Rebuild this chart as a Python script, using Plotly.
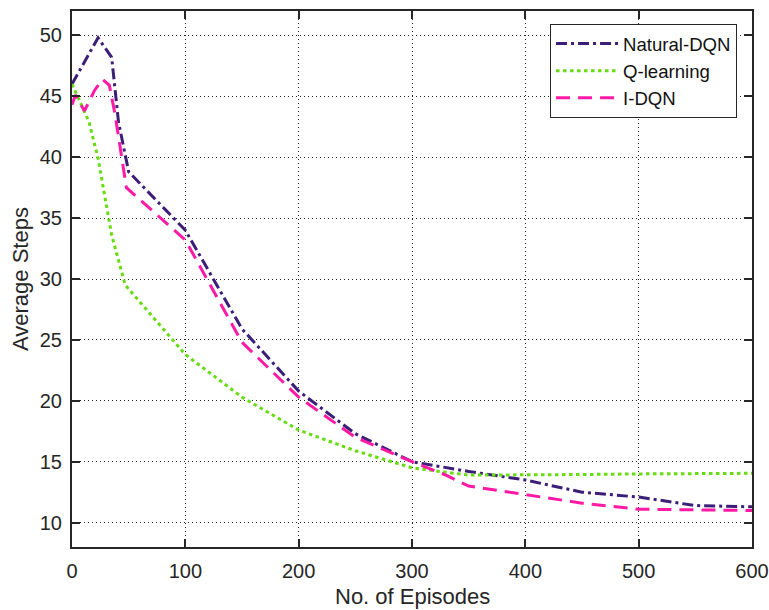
import plotly.graph_objects as go

# Natural-DQN
nat_x = [0, 23, 35, 41, 50, 100, 150, 200, 250, 300, 350, 400, 450, 500, 550, 600]
nat_y = [46.0, 49.8, 48.2, 42.9, 38.8, 34.0, 25.9, 20.8, 17.3, 15.0, 14.2, 13.5, 12.5, 12.1, 11.4, 11.3]

# Q-learning
q_x = [0, 8, 15, 23, 29, 35, 47, 75, 100, 150, 200, 250, 300, 350, 400, 450, 500, 550, 600]
q_y = [46.0, 44.3, 42.9, 39.9, 36.8, 33.6, 29.5, 26.5, 23.8, 20.3, 17.6, 15.9, 14.5, 13.9, 13.9, 13.95, 14.0, 14.0, 14.05]

# I-DQN
i_x = [0, 3, 11, 20, 27, 33, 38, 48, 100, 150, 200, 250, 300, 330, 350, 400, 450, 500, 550, 600]
i_y = [44.3, 45.1, 43.8, 45.5, 46.4, 45.9, 43.5, 37.5, 33.2, 24.8, 20.3, 17.0, 15.0, 13.9, 13.0, 12.3, 11.6, 11.1, 11.05, 11.0]

x_ticks = [0, 100, 200, 300, 400, 500, 600]
y_ticks = [10, 15, 20, 25, 30, 35, 40, 45, 50]

x_title = "No. of Episodes"
y_title = "Average Steps"

FONT = "Arial, Liberation Sans, Helvetica, sans-serif"
INK = "#262626"

fig = go.Figure()
fig.add_trace(go.Scatter(x=nat_x, y=nat_y, mode="lines", name="Natural-DQN",
                         line=dict(color="#3c1e78", width=3, dash="11px,4px,3px,4px")))
fig.add_trace(go.Scatter(x=q_x, y=q_y, mode="lines", name="Q-learning",
                         line=dict(color="#66dd11", width=3, dash="3.5px,3.5px")))
fig.add_trace(go.Scatter(x=i_x, y=i_y, mode="lines", name="I-DQN",
                         line=dict(color="#ff1aa6", width=3, dash="14px,8px")))

axis_common = dict(
    showline=True, linecolor=INK, linewidth=2, mirror="ticks",
    ticks="inside", ticklen=8, tickwidth=2, tickcolor=INK,
    showgrid=True, gridcolor=INK, gridwidth=1, griddash="1px,3px",
    zeroline=False, automargin=False,
    tickfont=dict(family=FONT, size=20, color=INK),
)

fig.update_xaxes(range=[0, 600], tickvals=x_ticks, ticktext=[str(v) for v in x_ticks],
                 ticklabelstandoff=5, **axis_common)
fig.update_yaxes(range=[8, 52], tickvals=y_ticks, ticktext=[str(v) for v in y_ticks],
                 ticklabelstandoff=4, **axis_common)

fig.add_annotation(text=x_title, xref="paper", yref="paper", x=0.5, y=-0.0925,
                   xanchor="center", yanchor="middle", showarrow=False,
                   font=dict(family=FONT, size=22, color=INK))
fig.add_annotation(text=y_title, xref="paper", yref="paper", x=-0.0765, y=0.5,
                   xanchor="center", yanchor="middle", showarrow=False, textangle=-90,
                   font=dict(family=FONT, size=22, color=INK))

fig.update_layout(
    width=769, height=610,
    margin=dict(l=72, r=17, t=11, b=63),
    paper_bgcolor="white", plot_bgcolor="white",
    showlegend=True,
    legend=dict(x=0.978, y=0.976, xanchor="right", yanchor="top",
                bgcolor="white", bordercolor=INK, borderwidth=1,
                font=dict(family=FONT, size=18.6, color="#111111"),
                tracegroupgap=0, itemwidth=62),
)

fig.write_html("out.html")
